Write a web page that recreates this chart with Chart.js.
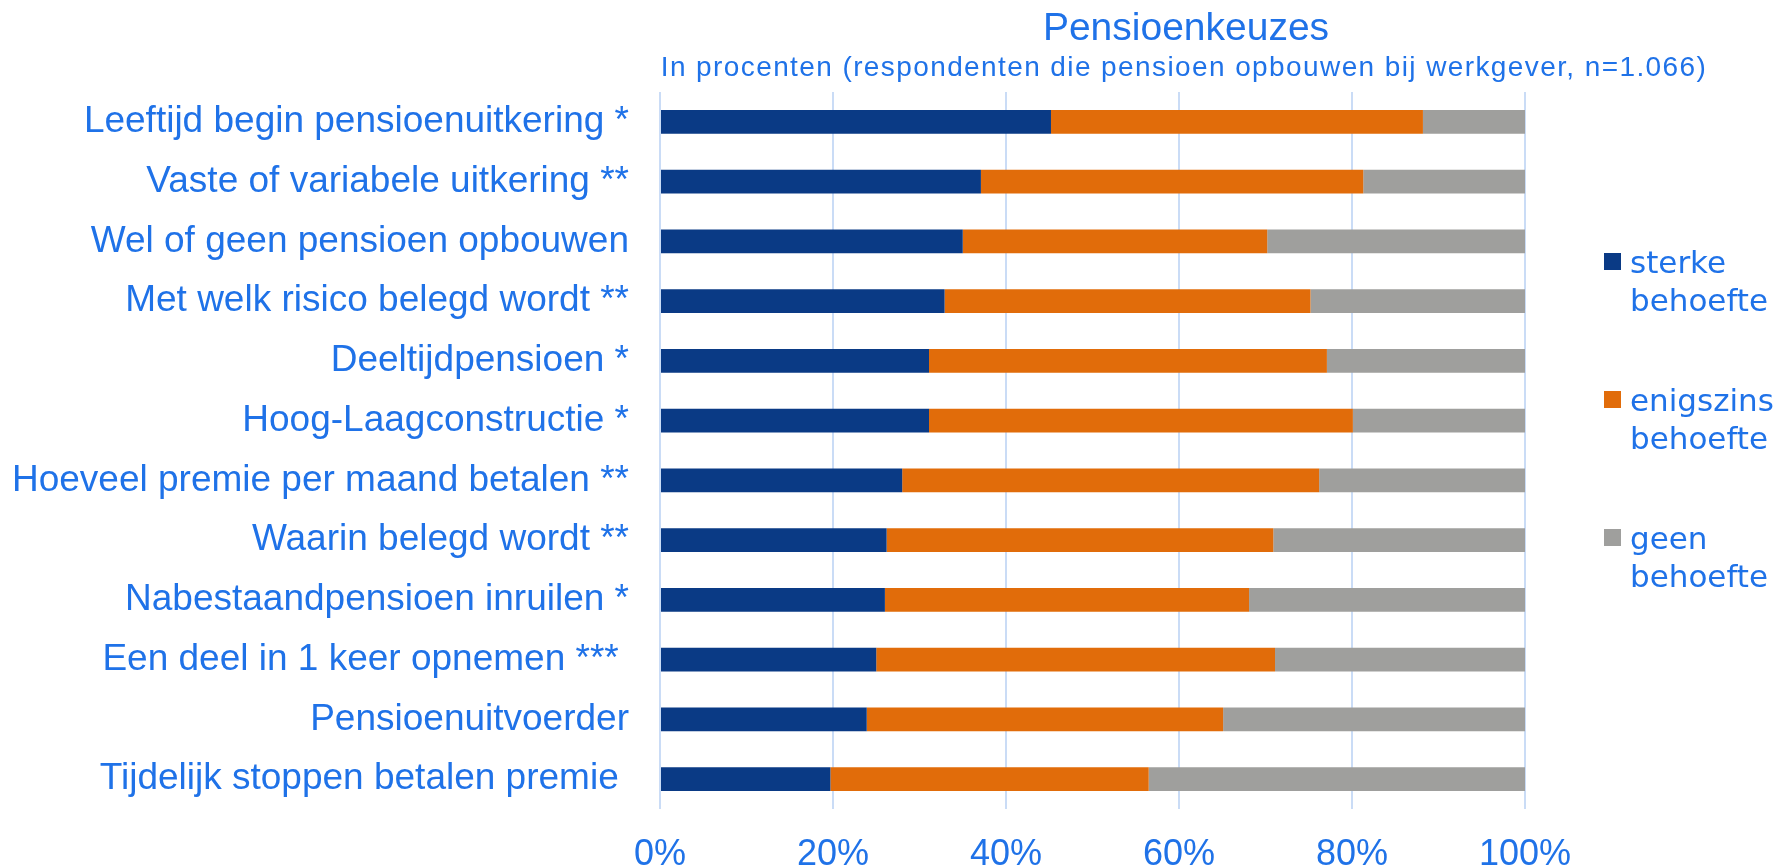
<!DOCTYPE html>
<html>
<head>
<meta charset="utf-8">
<script src="https://cdn.jsdelivr.net/npm/chart.js@4.4.1/dist/chart.umd.min.js"></script>
<style>
  html, body { margin: 0; padding: 0; background: #ffffff; }
  #wrap { width: 1780px; height: 866px; }
</style>
</head>
<body>
<div id="wrap"><canvas id="keuzes" width="1780" height="866"></canvas></div>
<script>
// categories, top to bottom
const keuzes = [
    'Leeftijd begin pensioenuitkering *',
    'Vaste of variabele uitkering **',
    'Wel of geen pensioen opbouwen',
    'Met welk risico belegd wordt **',
    'Deeltijdpensioen *',
    'Hoog-Laagconstructie *',
    'Hoeveel premie per maand betalen **',
    'Waarin belegd wordt **',
    'Nabestaandpensioen inruilen *',
    'Een deel in 1 keer opnemen *** ',
    'Pensioenuitvoerder',
    'Tijdelijk stoppen betalen premie '
];

// percentages per series
const sterkeBehoefte    = [45.2, 37.1, 35.0, 32.9, 31.1, 31.1, 28.0, 26.2, 26.0, 25.0, 23.9, 19.7];
const enigszinsBehoefte = [43.0, 44.2, 35.2, 42.3, 46.0, 49.0, 48.2, 44.7, 42.1, 46.1, 41.2, 36.8];
const geenBehoefte      = [11.8, 18.7, 29.8, 24.8, 22.9, 19.9, 23.8, 29.1, 31.9, 28.9, 34.9, 43.5];

const seriesNames = ['sterke behoefte', 'enigszins behoefte', 'geen behoefte'];
const xTicks = [0, 20, 40, 60, 80, 100];

const titel = 'Pensioenkeuzes';
const subtitel = 'In procenten (respondenten die pensioen opbouwen bij werkgever, n=1.066)';

const blauw = '#1f72e8';
const kleuren = ['#0a3a85', '#e16c0a', '#9f9f9d'];

// title + subtitle drawn centred over the plot/legend block
const titlePlugin = {
    id: 'titles',
    afterDraw(chart) {
        const ctx = chart.ctx;
        ctx.save();
        ctx.fillStyle = blauw;
        ctx.textAlign = 'center';
        ctx.textBaseline = 'alphabetic';
        ctx.font = '39px "Liberation Sans", Arial, sans-serif';
        ctx.fillText(titel, 1186, 40);
        ctx.font = '28px "Liberation Sans", Arial, sans-serif';
        ctx.letterSpacing = '1.4px';
        ctx.fillText(subtitel, 1184, 76);
        ctx.restore();
    }
};

// legend on the right, labels wrapped over two lines
const legendPlugin = {
    id: 'sideLegend',
    afterDraw(chart) {
        const ctx = chart.ctx;
        ctx.save();
        ctx.font = '31px "DejaVu Sans", Verdana, sans-serif';
        ctx.textBaseline = 'alphabetic';
        ctx.textAlign = 'left';
        chart.data.datasets.forEach((ds, i) => {
            const top = 253 + i * 138;
            ctx.fillStyle = ds.backgroundColor;
            ctx.fillRect(1604, top, 17, 17);
            ctx.fillStyle = blauw;
            const parts = ds.label.split(' ');
            ctx.fillText(parts[0], 1630, top + 20);
            ctx.fillText(parts[1], 1630, top + 58);
        });
        ctx.restore();
    }
};

const chart = new Chart(document.getElementById('keuzes'), {
    type: 'bar',
    data: {
        labels: keuzes,
        datasets: [
            { label: seriesNames[0], data: sterkeBehoefte, backgroundColor: kleuren[0] },
            { label: seriesNames[1], data: enigszinsBehoefte, backgroundColor: kleuren[1] },
            { label: seriesNames[2], data: geenBehoefte, backgroundColor: kleuren[2] }
        ]
    },
    options: {
        responsive: false,
        animation: false,
        indexAxis: 'y', // horizontal
        categoryPercentage: 1,
        barPercentage: 0.4,
        layout: {
            padding: { top: 92, right: 255, bottom: 0, left: 0 }
        },
        scales: {
            x: {
                stacked: true,
                min: 0,
                max: 100,
                afterBuildTicks: axis => {
                    axis.ticks = xTicks.map(v => ({ value: v }));
                },
                afterFit: axis => { axis.height = 57; },
                grid: {
                    color: '#cadcf6',
                    lineWidth: 2,
                    drawTicks: false
                },
                border: { display: false },
                ticks: {
                    color: blauw,
                    padding: 24,
                    font: { family: '"Liberation Sans", Arial, sans-serif', size: 36 },
                    callback: value => value + '%'
                }
            },
            y: {
                stacked: true,
                afterFit: axis => { axis.width = 660; },
                grid: { display: false },
                border: { display: false },
                ticks: {
                    color: blauw,
                    padding: 23,
                    autoSkip: false,
                    font: { family: '"Liberation Sans", Arial, sans-serif', size: 37 }
                }
            }
        },
        plugins: {
            legend: { display: false },
            tooltip: { enabled: false }
        }
    },
    plugins: [titlePlugin, legendPlugin]
});
</script>
</body>
</html>
